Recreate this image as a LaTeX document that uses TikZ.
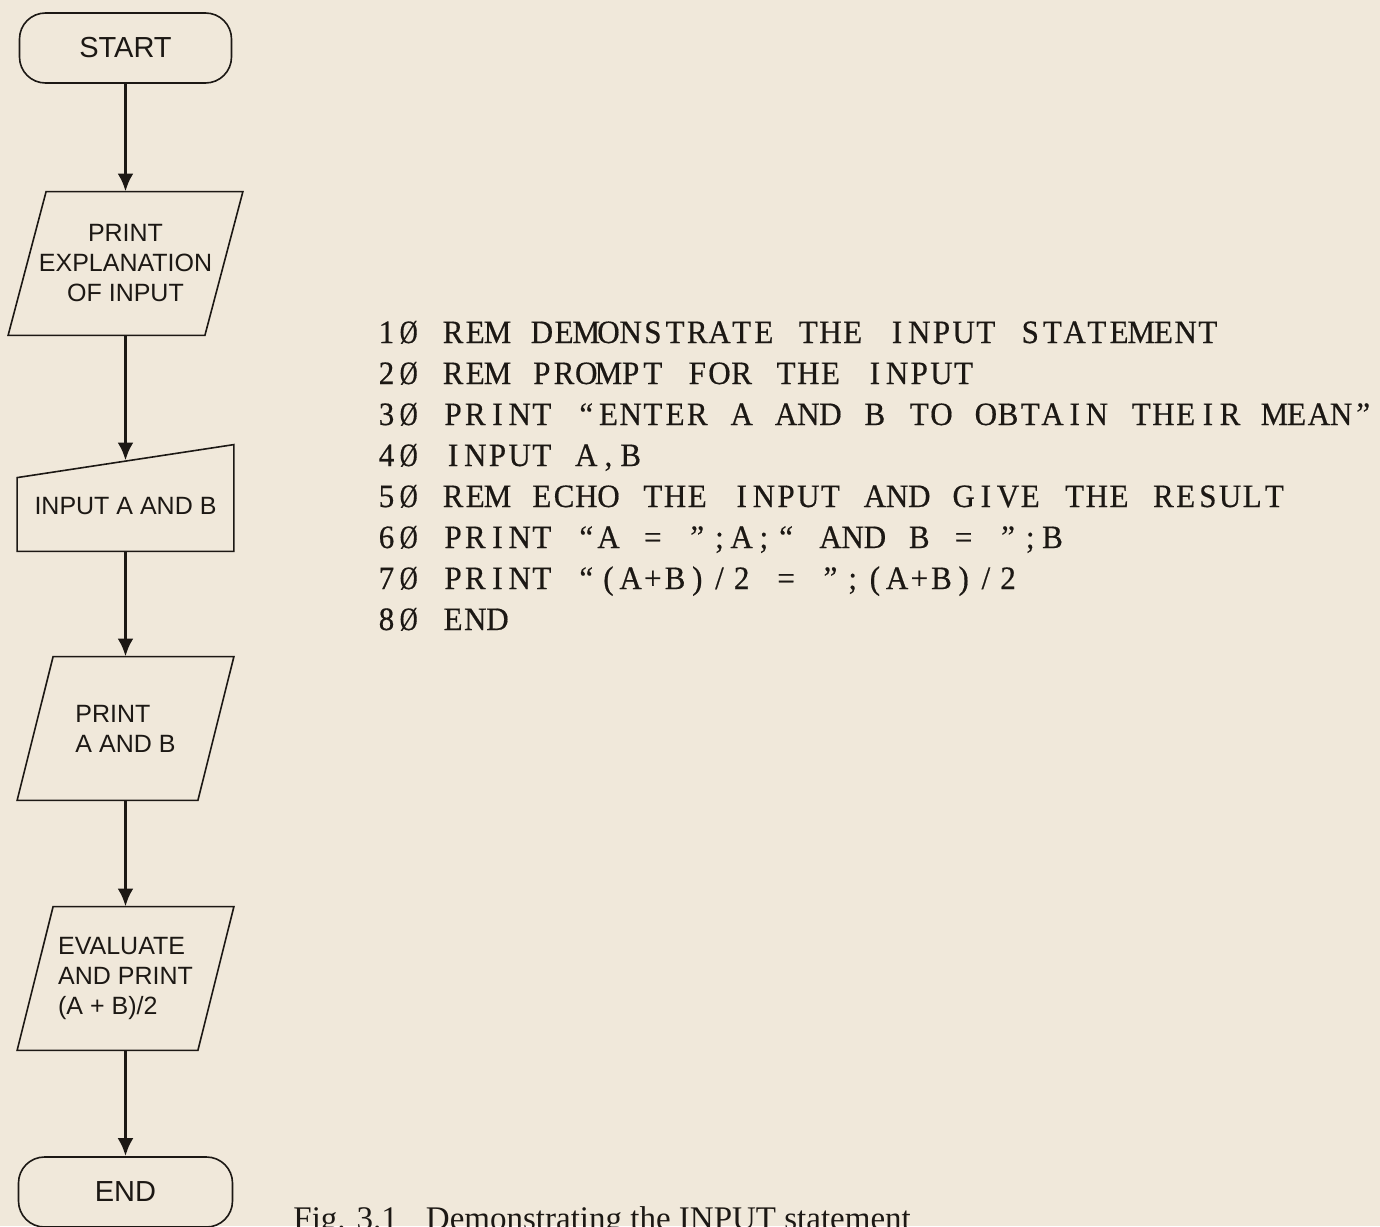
\documentclass[tikz,border=0pt]{standalone}
\usepackage{fontspec}
\usepackage{graphicx}
\setmainfont{Liberation Serif}
\newfontfamily\chartfont{Liberation Sans}
\newfontfamily\codefont[FakeStretch=0.95,FakeBold=0.5]{Liberation Serif}
\usetikzlibrary{arrows.meta}
\definecolor{paper}{RGB}{240,232,218}
\definecolor{ink}{RGB}{28,24,20}
\newcommand{\zro}{\makebox[0.52em]{\scalebox{0.8}[1]{Ø}}}
% every character of the listing sits in a cell of its own
\makeatletter
\newcommand{\cells}[1]{\@tfor\ch:=#1\do{\makebox[11.1pt]{\ch}}}
\makeatother

\tikzset{
  term/.style={draw=ink, line width=0.8pt, rounded corners=13pt, minimum height=35pt,
    font=\chartfont\fontsize{14.5}{17}\selectfont},
  iobox/.style={inner sep=0pt, minimum height=71.5pt, align=center,
    font=\chartfont\fontsize{12.5}{15}\selectfont},
  boxline/.style={draw=ink, line width=0.8pt},
  flow/.style={draw=ink, line width=1.9pt, -{Latex[length=9pt,width=8pt]}},
  codeline/.style={anchor=base west, inner sep=0pt, font=\codefont\fontsize{16.3}{20}\selectfont},
}

\begin{document}
\begin{tikzpicture}[x=0.5pt,y=-0.5pt,text=ink]
\useasboundingbox[fill=paper] (0,0) rectangle (1380,1226);

% flow chart
\node[term, minimum width=106pt] (start) at (125.5,48) {START};
\node[iobox, minimum width=98pt] (expl) at (125.5,263.5) {PRINT\\EXPLANATION\\OF INPUT};
\node[iobox, minimum width=108pt, minimum height=45pt] (inp) at (125.5,506) {\raisebox{-2pt}{INPUT A AND B}};
\node[iobox, minimum width=90pt, align=left] (prab) at (125.5,728.5) {PRINT\\A AND B};
\node[iobox, minimum width=90pt, align=left] (eval) at (125.5,978.5) {EVALUATE\\AND PRINT\\(A + B)/2};
\node[term, minimum width=107pt] (end) at (125.5,1192) {END};

\draw[boxline] ([xshift=9.5pt]expl.north west) -- ([xshift=9.5pt]expl.north east)
  -- ([xshift=-9.5pt]expl.south east) -- ([xshift=-9.5pt]expl.south west) -- cycle;
\draw[boxline] ([yshift=-8.5pt]inp.north west) -- ([yshift=8pt]inp.north east)
  -- (inp.south east) -- (inp.south west) -- cycle;
\foreach \b in {prab,eval}
  \draw[boxline] ([xshift=9pt]\b.north west) -- ([xshift=9pt]\b.north east)
    -- ([xshift=-9pt]\b.south east) -- ([xshift=-9pt]\b.south west) -- cycle;

\draw[flow] (start) -- (expl);
\draw[flow] (expl) -- (inp);
\draw[flow] (inp) -- (prab);
\draw[flow] (prab) -- (eval);
\draw[flow] (eval) -- (end);

% program listing
\foreach \ln [count=\i] in {
  {1\zro~REM~DEMONSTRATE~THE~INPUT~STATEMENT},
  {2\zro~REM~PROMPT~FOR~THE~INPUT},
  {3\zro~PRINT~“ENTER~A~AND~B~TO~OBTAIN~THEIR~MEAN”},
  {4\zro~INPUT~A,B},
  {5\zro~REM~ECHO~THE~INPUT~AND~GIVE~THE~RESULT},
  {6\zro~PRINT~“A~=~”;A;“~AND~B~=~”;B},
  {7\zro~PRINT~“(A+B)/2~=~”;(A+B)/2},
  {8\zro~END}}
  \node[codeline] (line\i) at (375,{343+41*(\i-1)}) {\expandafter\cells\expandafter{\ln}};

\node[anchor=base west, inner sep=0pt, font=\fontsize{16.5}{20}\selectfont] (caption)
  at (293,1229) {Fig. 3.1\hspace{0.6em} Demonstrating the INPUT statement};
\end{tikzpicture}
\end{document}
